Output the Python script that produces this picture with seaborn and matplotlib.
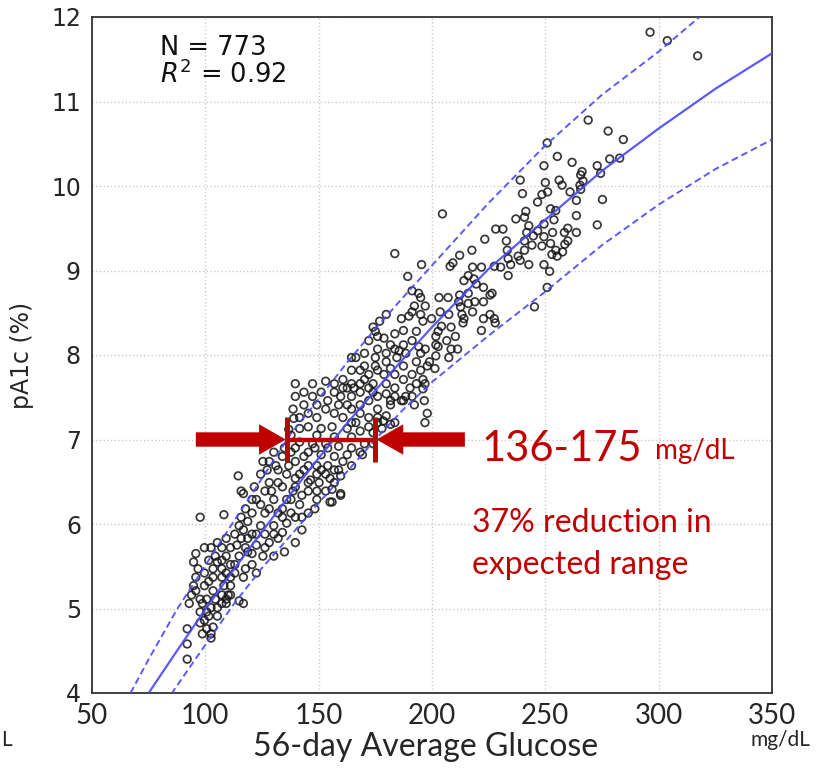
import matplotlib
matplotlib.use("Agg")
import matplotlib.pyplot as plt
from matplotlib.patches import FancyArrow
import numpy as np
import pandas as pd
import seaborn as sns

# ---------------- data ----------------
glucose = [
    296.2, 303.8, 317.2, 268.9, 277.7, 284.4, 250.8, 255.3, 278.4, 282.8,
    261.8, 272.9, 249.4, 266.2, 265.6, 274.4, 238.9, 256.1, 250.0, 265.3,
    239.9, 248.5, 251.0, 260.9, 263.7, 275.2, 246.6, 252.3, 254.6, 241.4,
    204.6, 253.8, 237.0, 240.8, 249.4, 242.7, 272.9, 259.9, 228.1, 231.3,
    241.8, 258.4, 263.7, 244.7, 249.4, 223.3, 232.8, 252.3, 258.6, 244.1,
    248.5, 254.6, 257.6, 252.9, 217.6, 212.2, 209.2, 183.6, 233.6, 234.7,
    238.9, 242.7, 227.5, 221.8, 195.4, 208.0, 189.3, 233.6, 216.0, 218.5,
    251.9, 250.8, 245.2, 214.1, 219.5, 222.7, 225.6, 191.2, 194.1, 203.1,
    207.1, 212.2, 197.0, 191.2, 189.8, 203.6, 207.4, 213.2, 217.9, 225.6,
    227.9, 222.7, 214.1, 211.8, 216.0, 179.8, 186.5, 196.0, 199.8, 204.2,
    208.4, 213.7, 221.8, 174.0, 176.0, 172.1, 178.8, 183.6, 187.4, 191.2,
    194.1, 197.0, 201.7, 202.7, 211.3, 201.7, 198.9, 193.1, 207.4, 197.9,
    201.3, 183.6, 176.0, 170.2, 166.4, 175.0, 179.8, 184.5, 187.4, 191.2,
    196.0, 196.9, 196.0, 196.6, 197.9, 196.9, 188.4, 186.5, 183.6, 191.2,
    176.0, 172.1, 168.3, 179.8, 183.6, 174.0, 181.7, 176.0, 179.8, 183.6,
    172.1, 168.3, 164.5, 162.6, 160.7, 164.5, 168.3, 172.1, 175.0, 176.9,
    170.2, 164.5, 156.9, 153.1, 139.7, 139.7, 143.5, 147.3, 149.2, 154.0,
    156.9, 159.7, 162.6, 164.5, 168.3, 172.1, 176.0, 177.9, 181.7, 172.1,
    166.4, 160.7, 156.9, 153.1, 149.2, 145.4, 143.5, 141.6, 145.4, 151.1,
    155.9, 162.6, 168.3, 174.0, 149.2, 156.9, 164.5, 170.2, 164.5, 158.8,
    153.1, 147.3, 141.6, 137.8, 139.7, 145.4, 151.1, 156.9, 162.6, 169.3,
    158.8, 159.7, 156.9, 155.9, 159.7, 155.0, 153.1, 149.2, 148.3, 145.4,
    142.6, 139.7, 134.9, 134.0, 149.2, 145.4, 139.7, 134.0, 130.2, 128.2,
    132.1, 135.9, 141.6, 145.4, 139.7, 134.0, 128.2, 124.4, 126.3, 122.5,
    130.2, 135.9, 141.6, 137.8, 132.1, 126.3, 120.6, 115.8, 114.9, 118.7,
    124.4, 130.2, 135.9, 126.3, 120.6, 115.8, 122.5, 128.2, 132.1, 118.7,
    114.9, 125.4, 130.2, 113.0, 120.6, 122.5, 116.8, 111.1, 107.3, 103.4,
    101.5, 105.3, 109.2, 111.1, 107.3, 97.7, 108.2, 114.5, 115.8, 116.8,
    95.8, 94.8, 96.8, 95.8, 99.6, 101.5, 99.6, 103.4, 107.3, 100.6,
    98.7, 97.7, 101.5, 105.3, 107.3, 109.2, 110.1, 114.9, 116.8, 99.6,
    97.7, 100.6, 102.5, 103.4, 102.5, 92.9, 92.0, 92.0, 92.0, 93.9,
    94.8, 111.1, 113.0, 117.7, 120.6, 117.7, 113.9, 118.7, 122.5, 126.3,
    130.2, 134.0, 137.8, 139.7, 142.6, 145.4, 149.2, 153.1, 149.2, 154.0,
    156.9, 160.7, 164.5, 168.3, 174.0, 178.5, 176.0, 164.5, 179.8, 181.7,
    174.0, 183.6, 187.4, 190.3, 192.2, 187.4, 179.8, 181.7, 187.4, 193.1,
    195.0, 201.7, 202.7, 206.5, 210.3, 208.4, 212.6, 216.0, 218.9, 222.7,
    227.5, 195.0, 195.0, 192.2, 217.9, 226.5, 233.2, 240.8, 240.8, 230.3,
    238.0, 246.6, 253.2, 259.9, 255.2, 249.4, 263.7, 266.6, 265.6, 257.4,
    132.1, 136.8, 143.5, 148.3, 154.0, 143.5, 137.8, 134.9, 131.1, 125.4,
    127.3, 121.6, 124.4, 128.2, 134.0, 138.7, 142.6, 146.4, 150.2, 151.1,
    155.0, 139.7, 129.2, 117.7, 120.6, 116.8, 113.0, 109.2, 107.3, 111.1,
    104.4, 99.6, 102.5, 105.3, 107.3, 109.2, 103.4, 104.4, 102.5, 105.3,
    108.2, 95.8, 97.7, 100.6, 98.7, 168.3, 176.0, 165.5, 160.7, 158.8,
    151.1, 147.3, 164.5, 170.2, 178.8, 181.7, 175.0, 185.5, 188.4, 195.0,
    193.1, 139.0, 136.8, 138.7, 141.6, 159.7, 155.9, 111.1, 109.2,
]
pa1c = [
    11.82, 11.72, 11.54, 10.78, 10.65, 10.55, 10.51, 10.35, 10.32, 10.33,
    10.28, 10.24, 10.24, 10.17, 10.13, 10.15, 10.07, 10.07, 10.04, 10.01,
    9.91, 9.90, 9.93, 9.93, 9.83, 9.84, 9.81, 9.73, 9.71, 9.70,
    9.67, 9.60, 9.61, 9.63, 9.55, 9.53, 9.54, 9.50, 9.49, 9.49,
    9.45, 9.45, 9.45, 9.41, 9.40, 9.37, 9.35, 9.32, 9.31, 9.30,
    9.29, 9.24, 9.22, 9.19, 9.24, 9.18, 9.09, 9.20, 9.14, 9.07,
    9.12, 9.07, 9.05, 9.04, 9.07, 9.05, 8.93, 8.94, 8.94, 8.90,
    8.99, 8.80, 8.57, 8.88, 8.84, 8.80, 8.71, 8.76, 8.73, 8.68,
    8.68, 8.71, 8.58, 8.51, 8.46, 8.51, 8.48, 8.48, 8.51, 8.48,
    8.38, 8.43, 8.43, 8.63, 8.61, 8.48, 8.43, 8.40, 8.43, 8.34,
    8.33, 8.38, 8.29, 8.33, 8.22, 8.17, 8.20, 8.25, 8.29, 8.17,
    8.10, 8.07, 8.22, 8.10, 8.07, 7.99, 7.92, 7.92, 7.97, 7.87,
    7.84, 8.07, 8.07, 8.02, 7.97, 7.97, 7.92, 7.97, 7.87, 7.77,
    7.71, 7.66, 7.60, 7.46, 7.31, 7.20, 7.51, 7.46, 7.51, 7.51,
    7.82, 7.77, 7.82, 7.66, 7.61, 7.56, 7.41, 7.36, 7.28, 7.20,
    7.46, 7.41, 7.51, 7.61, 7.71, 7.82, 7.66, 7.61, 8.28, 8.40,
    7.87, 7.97, 7.66, 7.69, 7.66, 7.51, 7.56, 7.51, 7.41, 7.46,
    7.56, 7.51, 7.41, 7.36, 7.31, 7.26, 7.20, 7.13, 7.18, 7.15,
    7.20, 7.26, 7.31, 7.36, 7.26, 7.31, 7.41, 7.26, 7.15, 7.13,
    7.15, 7.13, 7.10, 7.08, 7.05, 7.03, 7.03, 6.95, 6.90, 6.92,
    6.95, 6.95, 6.97, 7.05, 6.90, 6.85, 6.82, 6.80, 6.82, 6.82,
    6.64, 6.57, 6.49, 6.41, 6.34, 6.26, 6.39, 6.29, 6.18, 6.13,
    5.93, 5.78, 5.67, 5.90, 6.59, 6.69, 6.74, 6.80, 6.85, 6.74,
    6.64, 6.59, 6.59, 6.49, 6.44, 6.44, 6.49, 6.59, 6.39, 6.29,
    6.29, 6.29, 6.23, 6.13, 6.13, 6.13, 6.13, 6.08, 5.98, 6.03,
    5.98, 5.98, 6.01, 5.88, 5.88, 5.83, 5.75, 5.78, 5.83, 5.67,
    5.62, 5.62, 5.62, 5.52, 5.52, 5.42, 5.37, 5.37, 5.37, 5.47,
    5.57, 5.55, 5.62, 5.72, 5.72, 6.08, 6.11, 6.57, 6.39, 6.36,
    5.65, 5.55, 5.47, 5.37, 5.42, 5.32, 5.27, 5.21, 5.16, 5.11,
    5.06, 4.96, 4.91, 4.91, 5.06, 5.11, 5.16, 5.09, 5.06, 4.86,
    4.83, 4.76, 4.70, 4.78, 4.65, 5.06, 4.76, 4.58, 4.40, 5.16,
    5.27, 5.27, 5.42, 5.47, 5.65, 5.72, 5.75, 5.83, 5.88, 5.72,
    5.88, 6.08, 6.29, 6.08, 6.08, 6.39, 6.39, 6.59, 6.69, 6.69,
    6.64, 6.74, 6.69, 6.85, 6.95, 7.22, 7.26, 7.20, 7.54, 7.46,
    7.66, 7.77, 7.71, 7.61, 7.41, 7.46, 8.02, 8.12, 8.12, 8.28,
    8.02, 8.12, 8.28, 8.17, 8.22, 8.07, 8.57, 8.73, 8.63, 8.63,
    8.43, 8.48, 8.68, 8.58, 9.04, 8.73, 9.24, 9.24, 9.35, 9.04,
    9.17, 9.47, 9.45, 9.35, 9.17, 9.07, 9.65, 10.06, 9.96, 10.01,
    6.49, 6.69, 6.80, 6.90, 6.90, 6.64, 6.85, 6.90, 6.69, 6.74,
    6.64, 6.44, 6.23, 6.18, 6.18, 6.39, 6.34, 6.52, 6.49, 6.64,
    6.54, 6.54, 6.39, 6.18, 6.29, 5.93, 5.88, 5.83, 5.57, 5.52,
    5.62, 5.72, 5.72, 5.78, 5.47, 5.42, 5.37, 5.11, 5.01, 5.01,
    5.27, 5.21, 5.11, 4.96, 4.70, 7.56, 7.51, 7.61, 7.61, 7.41,
    7.56, 7.66, 7.66, 7.71, 7.77, 7.84, 7.87, 8.05, 8.02, 7.82,
    7.66, 7.25, 7.12, 7.36, 7.13, 6.36, 6.26, 5.16, 5.06,
]

# fitted curve and prediction band
fit_x = [75, 87.5, 100, 112.5, 125, 137.5, 150, 162.5, 175, 187.5, 200,
         225, 250, 275, 300, 325, 350]
fit_y = [4.00, 4.50, 4.99, 5.46, 5.91, 6.35, 6.78, 7.19, 7.58, 7.96, 8.33,
         9.02, 9.60, 10.18, 10.68, 11.15, 11.57]
upper_x = [67, 75, 87.5, 100, 112.5, 125, 137.5, 150, 162.5, 175, 187.5,
           200, 225, 250, 275, 300, 318]
upper_y = [4.00, 4.40, 4.99, 5.51, 6.03, 6.54, 7.06, 7.48, 7.91, 8.31, 8.69,
           9.06, 9.80, 10.48, 11.08, 11.59, 12.00]
lower_x = [85, 100, 112.5, 125, 137.5, 150, 162.5, 175, 187.5, 200, 225,
           250, 275, 300, 325, 350]
lower_y = [3.99, 4.57, 5.05, 5.48, 5.86, 6.25, 6.62, 7.00, 7.36, 7.68, 8.23,
           8.75, 9.30, 9.78, 10.20, 10.55]

x_ticks = [50, 100, 150, 200, 250, 300, 350]
y_ticks = [4, 5, 6, 7, 8, 9, 10, 11, 12]
range_lo, range_hi, range_level = 136, 175, 7.0

# ---------------- figure ----------------
sns.set_style("white")
plt.rcParams["font.family"] = ["DejaVu Sans"]

W, H = 831, 772
fig = plt.figure(figsize=(W / 100, H / 100), dpi=100)
ax = fig.add_axes([92 / W, 79 / H, 680 / W, 676 / H])

blue = "#4848ff"
red = "#C00000"

df = pd.DataFrame({"glucose": glucose, "pa1c": pa1c})
sns.scatterplot(data=df, x="glucose", y="pa1c", ax=ax, s=30, marker="o",
                facecolors="none", edgecolor="#151515", linewidth=1.25,
                alpha=0.85, zorder=2, legend=False)
for c in ax.collections:
    c.set_facecolor("none")

sns.lineplot(x=fit_x, y=fit_y, ax=ax, color=blue, lw=1.6, sort=False,
             estimator=None, zorder=3, alpha=0.9)
for bx, by in [(upper_x, upper_y), (lower_x, lower_y)]:
    sns.lineplot(x=bx, y=by, ax=ax, color=blue, lw=1.4, sort=False,
                 estimator=None, zorder=3, alpha=0.9, linestyle=(0, (3.5, 2)))

ax.set_xlim(50, 350)
ax.set_ylim(4, 12)
ax.set_xticks(x_ticks)
ax.set_yticks(y_ticks)
ax.grid(True, color="#cccccc", linestyle=":", linewidth=1.0)
ax.set_axisbelow(True)
for sp in ax.spines.values():
    sp.set_color("#333333")
    sp.set_linewidth(1.3)
ax.tick_params(direction="out", length=5, width=1.2, color="#333333")
ax.tick_params(axis="y", labelsize=17, pad=3)
ax.tick_params(axis="x", labelsize=20, pad=2)
for lab in ax.get_xticklabels():
    lab.set_family("Lato")

ax.set_ylabel("pA1c (%)", fontsize=17)
ax.yaxis.set_label_coords(-0.085, 0.5)
ax.set_xlabel("56-day Average Glucose", fontsize=23, family="Lato")
ax.xaxis.set_label_coords(0.49, -0.058)

ax.text(0.1, 0.9438, "N = 773", transform=ax.transAxes, fontsize=18.5,
        va="baseline", color="#111111")
ax.text(0.1, 0.9024, "$R^2$ = 0.92", transform=ax.transAxes, fontsize=18.5,
        va="baseline", color="#111111")

# range annotation
ax.add_patch(FancyArrow(95.8, range_level, range_lo - 0.5 - 95.8, 0, width=0.17,
                        head_width=0.36, head_length=11.8,
                        length_includes_head=True, color=red, zorder=5, lw=0))
ax.add_patch(FancyArrow(214.5, range_level, range_hi + 0.5 - 214.5, 0, width=0.17,
                        head_width=0.36, head_length=11.8,
                        length_includes_head=True, color=red, zorder=5, lw=0))
ax.plot([range_lo, range_hi], [range_level, range_level], color=red, lw=3.2,
        zorder=5, solid_capstyle="butt")
for xv in (range_lo, range_hi):
    ax.plot([xv, xv], [6.73, 7.27], color=red, lw=3.6, zorder=5,
            solid_capstyle="butt")

ax.text(221.8, 6.75, "136-175", color=red, fontsize=30, family="Lato",
        va="baseline", ha="left", zorder=6)
ax.text(298.5, 6.77, "mg/dL", color=red, fontsize=20, family="Lato",
        va="baseline", ha="left", zorder=6)
ax.text(217.7, 5.91, "37% reduction in", color=red, fontsize=23, family="Lato",
        va="baseline", ha="left", zorder=6)
ax.text(217.7, 5.41, "expected range", color=red, fontsize=23, family="Lato",
        va="baseline", ha="left", zorder=6)

fig.text(780 / W, 1 - 740 / H, "mg/dL", fontsize=15, family="Lato",
         ha="center", va="center")
fig.text(1 / W, 1 - 740 / H, "L", fontsize=15, family="Lato",
         ha="left", va="center")

fig.savefig("out.png", dpi=100, facecolor="white")
